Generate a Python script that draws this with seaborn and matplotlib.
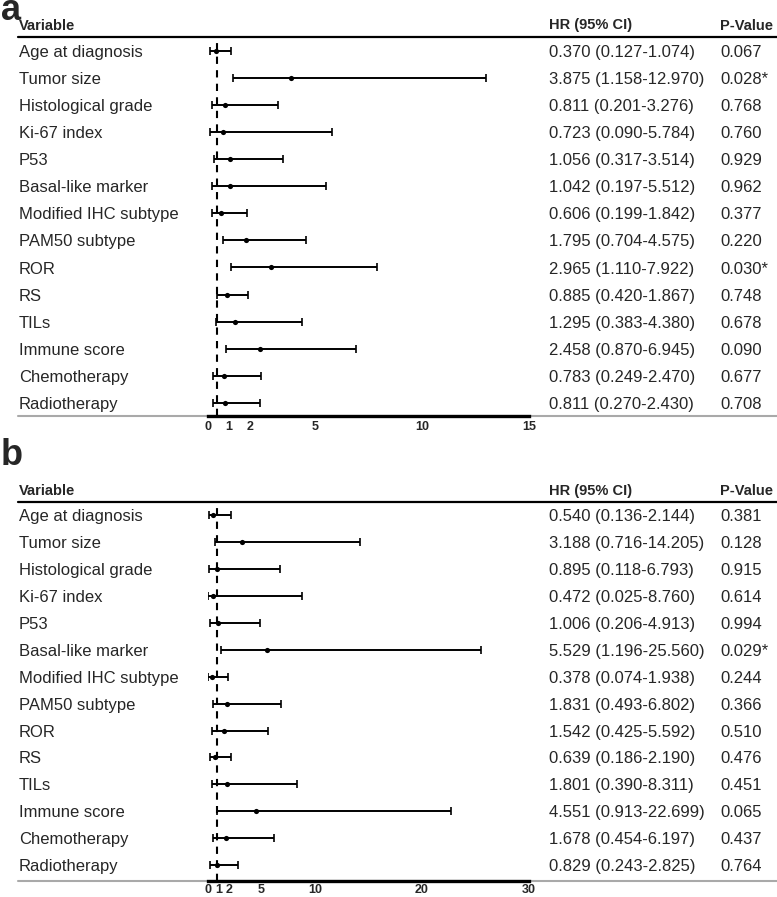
import numpy as np
import pandas as pd
import matplotlib
matplotlib.use("Agg")
import matplotlib.pyplot as plt
import matplotlib.lines as mlines
import seaborn as sns

# ---- data ----
variables = ["Age at diagnosis", "Tumor size", "Histological grade", "Ki-67 index",
             "P53", "Basal-like marker", "Modified IHC subtype", "PAM50 subtype",
             "ROR", "RS", "TILs", "Immune score", "Chemotherapy", "Radiotherapy"]

a_hr = [0.370, 3.875, 0.811, 0.723, 1.056, 1.042, 0.606, 1.795, 2.965, 0.885, 1.295, 2.458, 0.783, 0.811]
a_lo = [0.127, 1.158, 0.201, 0.090, 0.317, 0.197, 0.199, 0.704, 1.110, 0.420, 0.383, 0.870, 0.249, 0.270]
a_hi = [1.074, 12.970, 3.276, 5.784, 3.514, 5.512, 1.842, 4.575, 7.922, 1.867, 4.380, 6.945, 2.470, 2.430]
a_p = ["0.067", "0.028*", "0.768", "0.760", "0.929", "0.962", "0.377", "0.220", "0.030*",
       "0.748", "0.678", "0.090", "0.677", "0.708"]
a_ticks = [0, 1, 2, 5, 10, 15]

b_hr = [0.540, 3.188, 0.895, 0.472, 1.006, 5.529, 0.378, 1.831, 1.542, 0.639, 1.801, 4.551, 1.678, 0.829]
b_lo = [0.136, 0.716, 0.118, 0.025, 0.206, 1.196, 0.074, 0.493, 0.425, 0.186, 0.390, 0.913, 0.454, 0.243]
b_hi = [2.144, 14.205, 6.793, 8.760, 4.913, 25.560, 1.938, 6.802, 5.592, 2.190, 8.311, 22.699, 6.197, 2.825]
b_p = ["0.381", "0.128", "0.915", "0.614", "0.994", "0.029*", "0.244", "0.366", "0.510",
       "0.476", "0.451", "0.065", "0.437", "0.764"]
b_ticks = [0, 1, 2, 5, 10, 20, 30]

W, H = 777, 897
FONT = "Liberation Sans"


def fx(x):
    return x / W


def fy(y):
    return 1 - y / H


def draw_panel(fig, letter, letter_y, hr, lo, hi, pvals, ticks, ref,
               head_y, line_y, row0_y, step, bottom_y, tick_pad):
    df = pd.DataFrame({"var": variables, "hr": hr, "lo": lo, "hi": hi, "p": pvals})
    df["row"] = np.arange(len(df))
    n = len(df)

    x0, x1 = 207.7, 529
    ax = fig.add_axes([fx(x0), fy(bottom_y), (x1 - x0) / W, (bottom_y - line_y) / H])
    ax.set_xlim(0, ticks[-1])
    ax.set_ylim((n - 1) + (bottom_y - (row0_y + (n - 1) * step)) / step,
                -(row0_y - line_y) / step)

    # reference line
    ax.axvline(ref, color="black", lw=1.5, ls=(0, (3.5, 3)), zorder=1)

    ax.errorbar(df["hr"], df["row"], xerr=[df["hr"] - df["lo"], df["hi"] - df["hr"]],
                fmt="none", ecolor="black", elinewidth=1.4, capsize=3, capthick=1.2, zorder=3)
    sns.scatterplot(data=df, x="hr", y="row", color="black", s=14, edgecolor="black",
                    linewidth=0, ax=ax, zorder=4, legend=False)

    ax.set_xticks(ticks)
    ax.set_xticklabels([str(t) for t in ticks], fontsize=9, fontweight="bold", family=FONT)
    ax.tick_params(axis="x", length=0, pad=tick_pad)
    ax.set_yticks([])
    ax.set_xlabel("")
    ax.set_ylabel("")
    for s in ["top", "left", "right"]:
        ax.spines[s].set_visible(False)
    ax.spines["bottom"].set_linewidth(2.4)
    ax.spines["bottom"].set_color("black")
    ax.spines["bottom"].set_zorder(5)
    ax.patch.set_alpha(0)

    # table lines
    fig.add_artist(mlines.Line2D([fx(18), 1], [fy(line_y), fy(line_y)], color="black", lw=1.6))
    fig.add_artist(mlines.Line2D([fx(18), 1], [fy(bottom_y), fy(bottom_y)], color="#a9a9a9",
                                 lw=1.5, zorder=0))

    # headers
    hd = dict(fontsize=10.5, fontweight="bold", family=FONT, va="baseline")
    fig.text(fx(19), fy(head_y), "Variable", **hd)
    fig.text(fx(549), fy(head_y), "HR (95% CI)", **hd)
    fig.text(fx(720), fy(head_y), "P-Value", **hd)

    # rows
    rt = dict(fontsize=12, family=FONT, va="baseline")
    for i, r in df.iterrows():
        yb = row0_y + i * step + 6
        fig.text(fx(19), fy(yb), r["var"], **rt)
        fig.text(fx(549), fy(yb), "{:.3f} ({:.3f}-{:.3f})".format(r["hr"], r["lo"], r["hi"]), **rt)
        fig.text(fx(720), fy(yb), r["p"], **rt)

    fig.text(fx(1), fy(letter_y), letter, fontsize=26, fontweight="bold", family=FONT,
             va="baseline")
    return ax


sns.set_theme(style="white")
plt.rcParams["font.family"] = [FONT, "DejaVu Sans"]

fig = plt.figure(figsize=(W / 100, H / 100), dpi=100)

draw_panel(fig, "a", 20.5, a_hr, a_lo, a_hi, a_p, a_ticks, 0.45,
           head_y=29.5, line_y=36.7, row0_y=50.7, step=27.1, bottom_y=415.7, tick_pad=4)
draw_panel(fig, "b", 465, b_hr, b_lo, b_hi, b_p, b_ticks, 0.9,
           head_y=495, line_y=502, row0_y=515.3, step=26.9, bottom_y=880.5, tick_pad=2.5)

fig.savefig("out.png", dpi=100)
